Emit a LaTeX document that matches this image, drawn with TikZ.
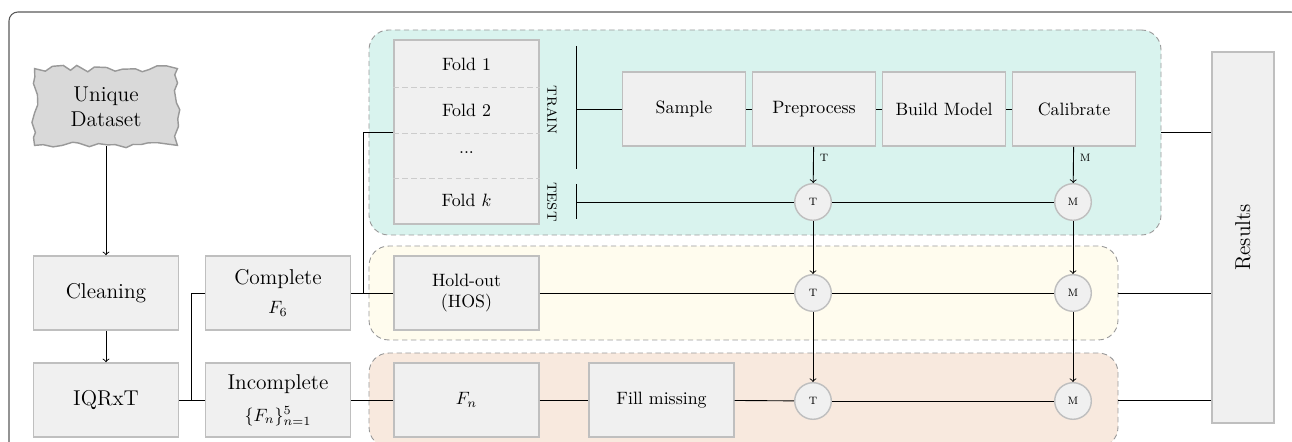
\documentclass[tikz,border=0pt]{standalone}
\usepackage{amsmath}
\usepackage{xcolor}
\usepackage{tikz}
\usetikzlibrary{calc, positioning, decorations.pathmorphing}

\definecolor{trainbg}{HTML}{D9F3EE}
\definecolor{holdbg}{HTML}{FFFCEE}
\definecolor{fillbg}{HTML}{F8E9DE}

\tikzset{
	stage/.style={draw=gray!50, fill=gray!12, line width=0.8pt,
		minimum width=81pt, minimum height=41.5pt, align=center, font=\large},
	substage/.style={stage, font=\normalsize},
	merge/.style={circle, draw=gray!50, fill=gray!12, line width=0.8pt,
		minimum size=20.5pt, inner sep=0pt, font=\footnotesize},
	region/.style={draw=gray!80, dash pattern=on 3pt off 2pt, line width=0.5pt,
		rounded corners=11pt, inner sep=0pt},
}

\begin{document}
\pgfmathsetseed{7}
\begin{tikzpicture}[x=0.56pt, y=-0.56pt, line width=0.5pt, >=to]
	\useasboundingbox (0,0) rectangle (1292,442);
	\draw[gray!70!black, line width=0.6pt, rounded corners=5pt] (9,12) rectangle (1300,470);

	% background groups
	\node[region, fill=trainbg, minimum width=443.5pt, minimum height=114.8pt] (trainreg) at (765,132.5) {};
	\node[region, fill=holdbg, minimum width=419.4pt, minimum height=52.6pt] (holdreg) at (743.5,293) {};
	\node[region, fill=fillbg, minimum width=419.4pt, minimum height=52.6pt] (fillreg) at (743.5,400) {};

	% left column
	\node[draw=gray!80, fill=gray!30, line width=0.8pt, decorate,
		decoration={random steps, segment length=5pt, amplitude=1.8pt},
		minimum width=80pt, minimum height=43pt, align=center, font=\large]
		(unique) at (106,107) {Unique\\Dataset};
	\node[stage] (clean) at (106,293) {Cleaning};
	\node[stage] (iqr) at (106,400) {IQRxT};
	\node[stage] (compl) at (278,293) {Complete\\[2pt]{\normalsize$F_6$}};
	\node[stage] (incompl) at (278,400) {Incomplete\\[4pt]{\normalsize$\{F_n\}_{n=1}^{5}$}};

	% folds
	\node[stage, minimum height=103pt] (folds) at (466.5,132) {};
	\foreach \yy in {87, 133, 178} {
			\draw[gray!40, dash pattern=on 3pt off 2pt] (folds.west |- 0,\yy) -- (folds.east |- 0,\yy);
		}
	\node (f1) at (466.5,64) {Fold 1};
	\node (f2) at (466.5,110) {Fold 2};
	\node (fdots) at (466.5,153) {...};
	\node (fk) at (466.5,200) {Fold $k$};

	\node[rotate=-90] (trainlbl) at (552,110) {\textsc{train}};
	\node[rotate=-90] (testlbl) at (552,202) {\textsc{test}};
	\coordinate (trtop) at (576,46);
	\coordinate (trbot) at (576,169);
	\coordinate (tstop) at (576,184);
	\coordinate (tsbot) at (576,219);

	% training chain
	\node[substage, minimum width=69pt] (sample) at (684,109) {Sample};
	\node[substage, minimum width=69pt] (prep) at (814,109) {Preprocess};
	\node[substage, minimum width=69pt] (build) at (944,109) {Build Model};
	\node[substage, minimum width=69pt] (calib) at (1074,109) {Calibrate};

	% hold-out and incomplete rows
	\node[substage] (hold) at (466.5,293) {Hold-out\\(HOS)};
	\node[substage] (fn) at (466.5,400) {$F_n$};
	\node[substage] (fillm) at (661.5,400) {Fill missing};

	\node[stage, minimum width=34.7pt, minimum height=207.8pt] (results) at (1243,237.5) {\rotatebox{90}{Results}};

	\foreach \r/\y in {1/202, 2/293, 3/401} {
			\node[merge] (t\r) at (813,\y) {\textsc{t}};
			\node[merge] (m\r) at (1073,\y) {\textsc{m}};
			\draw (t\r) -- (m\r);
		}

	% connectors
	\draw[->] (unique) -- (clean);
	\draw[->] (clean) -- (iqr);
	\draw (iqr) -- (incompl);
	\coordinate (split) at (191,400);
	\draw (split) |- (compl.west);
	\draw (compl) -- (hold);
	\coordinate (fork) at (363,293);
	\draw (fork) |- (folds.west);

	\draw (trtop) -- (trbot);
	\draw (sample.west -| trtop) -- (sample.west);
	\draw (tstop) -- (tsbot);
	\draw (t1 -| tstop) -- (t1);
	\draw (sample) -- (prep);
	\draw (prep) -- (build);
	\draw (build) -- (calib);
	\draw[->] (prep) -- node[right, pos=0.3, font=\footnotesize] {\textsc{t}} (t1);
	\draw[->] (calib) -- node[right, pos=0.3, font=\footnotesize] {\textsc{m}} (m1);

	\draw (hold) -- (t2);
	\draw (incompl) -- (fn);
	\draw (fn) -- (fillm);
	\draw (fillm) -- (t3);
	\foreach \a/\b in {1/2, 2/3} {
			\draw[->] (t\a) -- (t\b);
			\draw[->] (m\a) -- (m\b);
		}

	\foreach \g in {trainreg, holdreg, fillreg} {
			\draw (\g.east) -- (\g.east -| results.west);
		}
\end{tikzpicture}
\end{document}
